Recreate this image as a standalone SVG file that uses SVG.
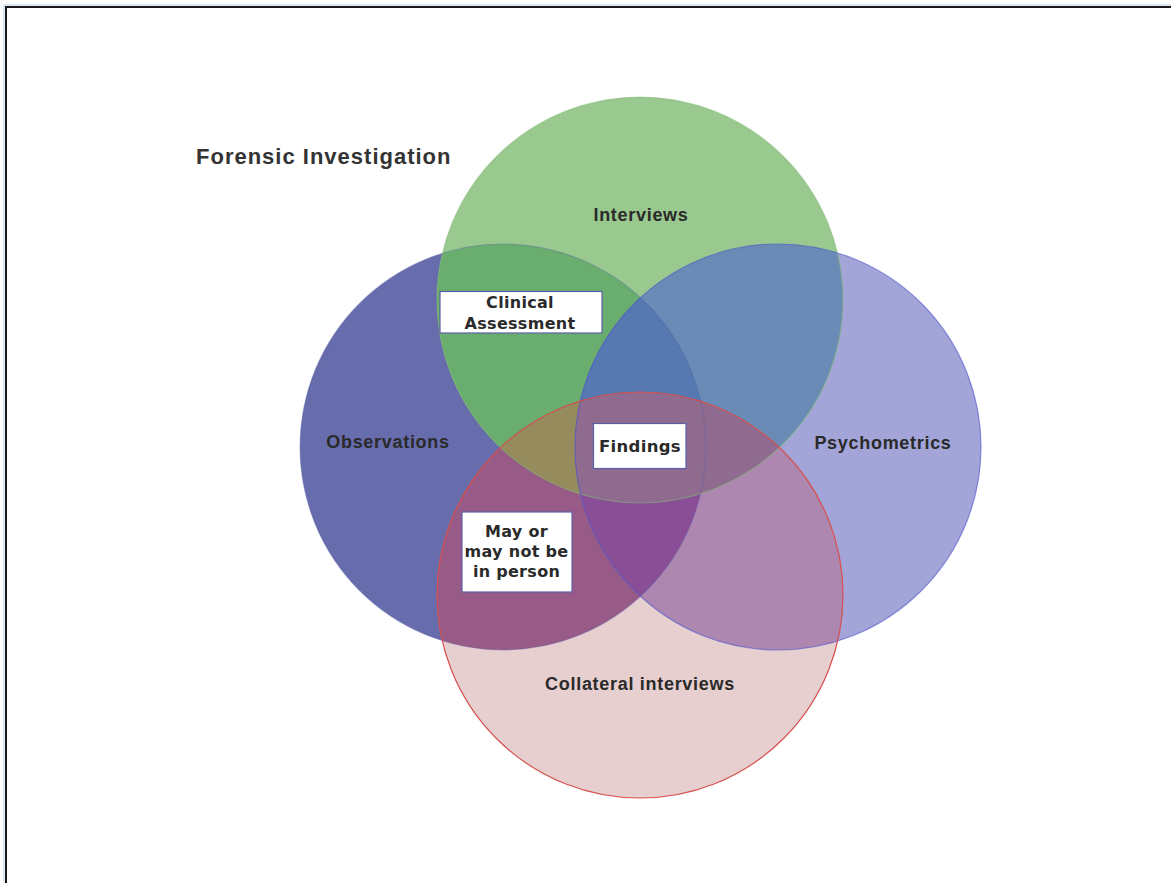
<svg xmlns="http://www.w3.org/2000/svg" width="1171" height="883" viewBox="0 0 1171 883">
<style>
.lbl{font-family:"Liberation Sans",Arial,sans-serif;font-weight:bold;font-size:18px;fill:#2a2a2a;letter-spacing:0.7px;text-anchor:middle}
.title{font-family:"Liberation Sans",Arial,sans-serif;font-weight:bold;font-size:22px;fill:#333;letter-spacing:1px}
.box{fill:#fff;stroke:#5b5fa8;stroke-width:1.2}
.bt{font-family:"DejaVu Sans",Verdana,sans-serif;font-weight:bold;font-size:16px;fill:#2a2a2a;text-anchor:middle;letter-spacing:0.3px}
.ol{fill:none;stroke-width:1.2}
</style>
<defs>
<clipPath id="cO"><circle cx="503" cy="447" r="203"/></clipPath>
<clipPath id="cI"><circle cx="640" cy="300" r="203"/></clipPath>
<clipPath id="cP"><circle cx="778" cy="447" r="203"/></clipPath>
<clipPath id="cC"><circle cx="640" cy="595" r="203"/></clipPath>
</defs>
<rect width="1171" height="883" fill="#fff"/>
<path d="M4,883 V5 H1171" fill="none" stroke="#b8d0e8" stroke-width="1"/>
<path d="M6,883 V7 H1171" fill="none" stroke="#1a1a1a" stroke-width="2"/>

<g id="node-observations"><circle cx="503" cy="447" r="203" fill="#676cac"/></g>
<g id="node-psychometrics"><circle cx="778" cy="447" r="203" fill="#a3a5d8"/></g>
<g id="node-interviews"><circle cx="640" cy="300" r="203" fill="#99c98e"/></g>
<g id="node-collateral"><circle cx="640" cy="595" r="203" fill="#e7cfcf"/></g>

<g id="overlaps">
<g clip-path="url(#cO)"><circle cx="640" cy="300" r="203" fill="#69ae6f"/></g>
<g clip-path="url(#cO)"><circle cx="778" cy="447" r="203" fill="#5a6aaa"/></g>
<g clip-path="url(#cO)"><circle cx="640" cy="595" r="203" fill="#985b88"/></g>
<g clip-path="url(#cI)"><circle cx="778" cy="447" r="203" fill="#6a8bb6"/></g>
<g clip-path="url(#cI)"><circle cx="640" cy="595" r="203" fill="#948b5e"/></g>
<g clip-path="url(#cP)"><circle cx="640" cy="595" r="203" fill="#ae87b1"/></g>
<g clip-path="url(#cO)"><g clip-path="url(#cI)"><circle cx="778" cy="447" r="203" fill="#5579b0"/></g></g>
<g clip-path="url(#cO)"><g clip-path="url(#cI)"><circle cx="640" cy="595" r="203" fill="#958b5d"/></g></g>
<g clip-path="url(#cO)"><g clip-path="url(#cP)"><circle cx="640" cy="595" r="203" fill="#8a4e97"/></g></g>
<g clip-path="url(#cI)"><g clip-path="url(#cP)"><circle cx="640" cy="595" r="203" fill="#8f6c8f"/></g></g>
<g clip-path="url(#cO)"><g clip-path="url(#cI)"><g clip-path="url(#cP)"><circle cx="640" cy="595" r="203" fill="#8f6c8f"/></g></g></g>
</g>

<g id="outlines">
<circle class="ol" cx="503" cy="447" r="203" stroke="#5a5fa6" stroke-opacity="0.35"/>
<circle class="ol" cx="640" cy="300" r="203" stroke="#86bb7a" stroke-opacity="0.5"/>
<circle class="ol" cx="778" cy="447" r="203" stroke="#4f55cc" stroke-opacity="0.6"/>
<circle class="ol" cx="640" cy="595" r="203" stroke="#d4504e"/>
</g>

<g id="connectors"/>

<g id="labels">
<text class="title" x="196" y="164">Forensic Investigation</text>
<text class="lbl" x="641" y="221">Interviews</text>
<text class="lbl" x="388" y="448">Observations</text>
<text class="lbl" x="883" y="449">Psychometrics</text>
<text class="lbl" x="640" y="690">Collateral interviews</text>
</g>

<g id="node-clinical-assessment">
<rect class="box" x="440" y="291.5" width="162" height="41.5"/>
<text class="bt" x="520" y="308">Clinical</text>
<text class="bt" x="520" y="328.5">Assessment</text>
</g>
<g id="node-findings">
<rect class="box" x="593.5" y="423.5" width="92.5" height="45"/>
<text class="bt" x="640" y="452" style="font-size:16.5px">Findings</text>
</g>
<g id="node-in-person">
<rect class="box" x="462" y="512" width="110" height="80"/>
<text class="bt" x="516.5" y="536.5">May or</text>
<text class="bt" x="516.5" y="556.5">may not be</text>
<text class="bt" x="516.5" y="577">in person</text>
</g>
</svg>
